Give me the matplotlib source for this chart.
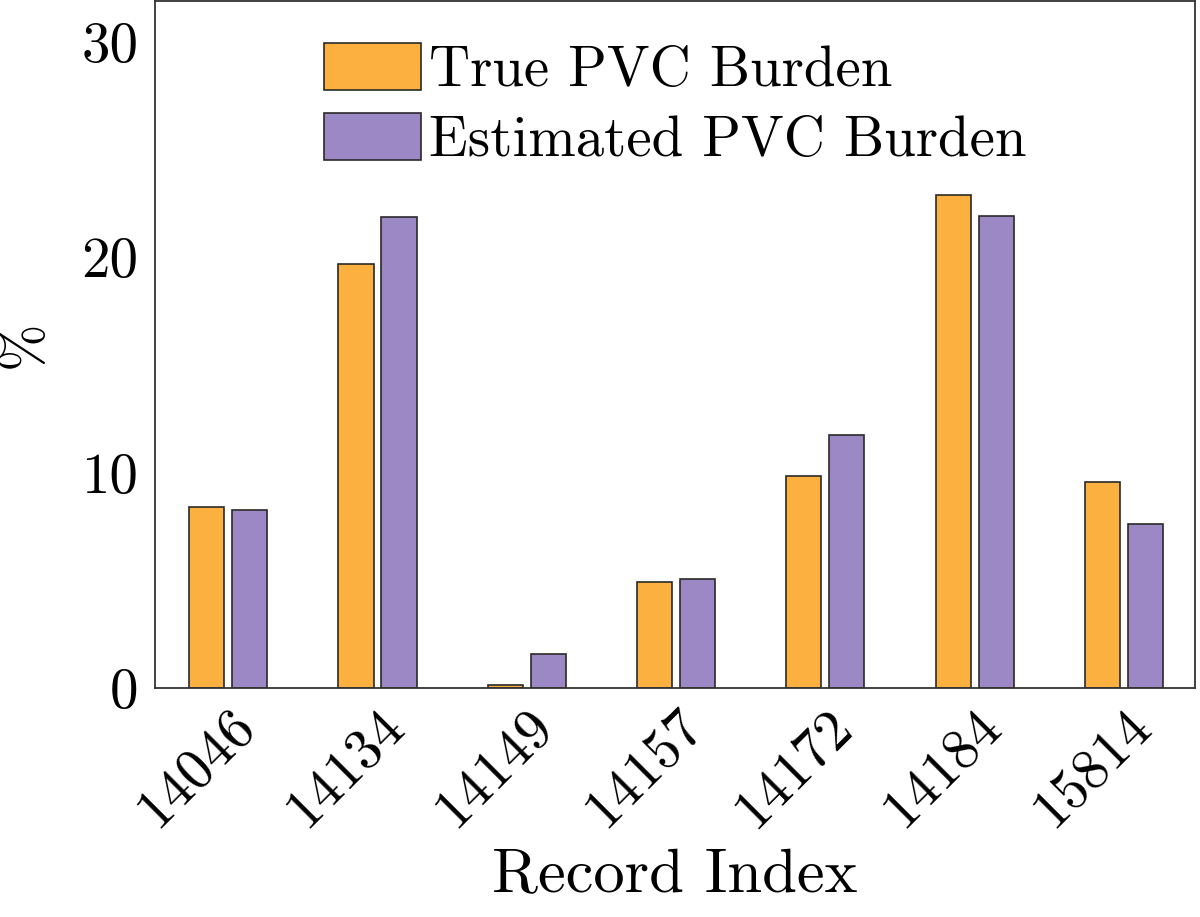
import matplotlib
matplotlib.use('Agg')
import matplotlib.pyplot as plt
import numpy as np

plt.rcParams['font.family'] = 'serif'
plt.rcParams['font.serif'] = ['cmr10']
plt.rcParams['mathtext.fontset'] = 'cm'
plt.rcParams['axes.unicode_minus'] = False

# Data
records = ['14046', '14134', '14149', '14157', '14172', '14184', '15814']
true_burden = [8.4, 19.7, 0.15, 4.9, 9.85, 22.9, 9.55]
est_burden = [8.25, 21.85, 1.6, 5.05, 11.75, 21.9, 7.6]

x = np.arange(len(records))
w = 0.235
off = 0.144

fig = plt.figure(figsize=(12, 9.17), dpi=100)
ax = fig.add_axes([155 / 1200, 1 - 688 / 917, 1040 / 1200, 687 / 917])

ax.bar(x - off, true_burden, w, color='#fbb040', edgecolor='#2a2a2a',
       linewidth=1.2, label='True PVC Burden')
ax.bar(x + off, est_burden, w, color='#9b88c4', edgecolor='#2a2a2a',
       linewidth=1.2, label='Estimated PVC Burden')

ax.set_xlim(-0.49, 6.475)
ax.set_ylim(0, 31.9)
ax.set_yticks([0, 10, 20, 30])
ax.set_xticks(x)
ax.set_xticklabels(records, rotation=45, ha='right', rotation_mode='anchor')
ax.tick_params(length=0, labelsize=41)
ax.tick_params(axis='x', pad=9)
ax.tick_params(axis='y', pad=12)
for s in ax.spines.values():
    s.set_linewidth(1.3)
    s.set_color('#333333')

ax.set_ylabel('%', fontsize=41, labelpad=22)
ax.set_xlabel('Record Index', fontsize=45, labelpad=8)

ax.legend(loc='upper left', bbox_to_anchor=(0.1355, 0.981), frameon=False,
          fontsize=41, handlelength=1.7, handleheight=0.9,
          handletextpad=0.14, labelspacing=0.28, borderpad=0)

plt.savefig('out.png', dpi=100)
